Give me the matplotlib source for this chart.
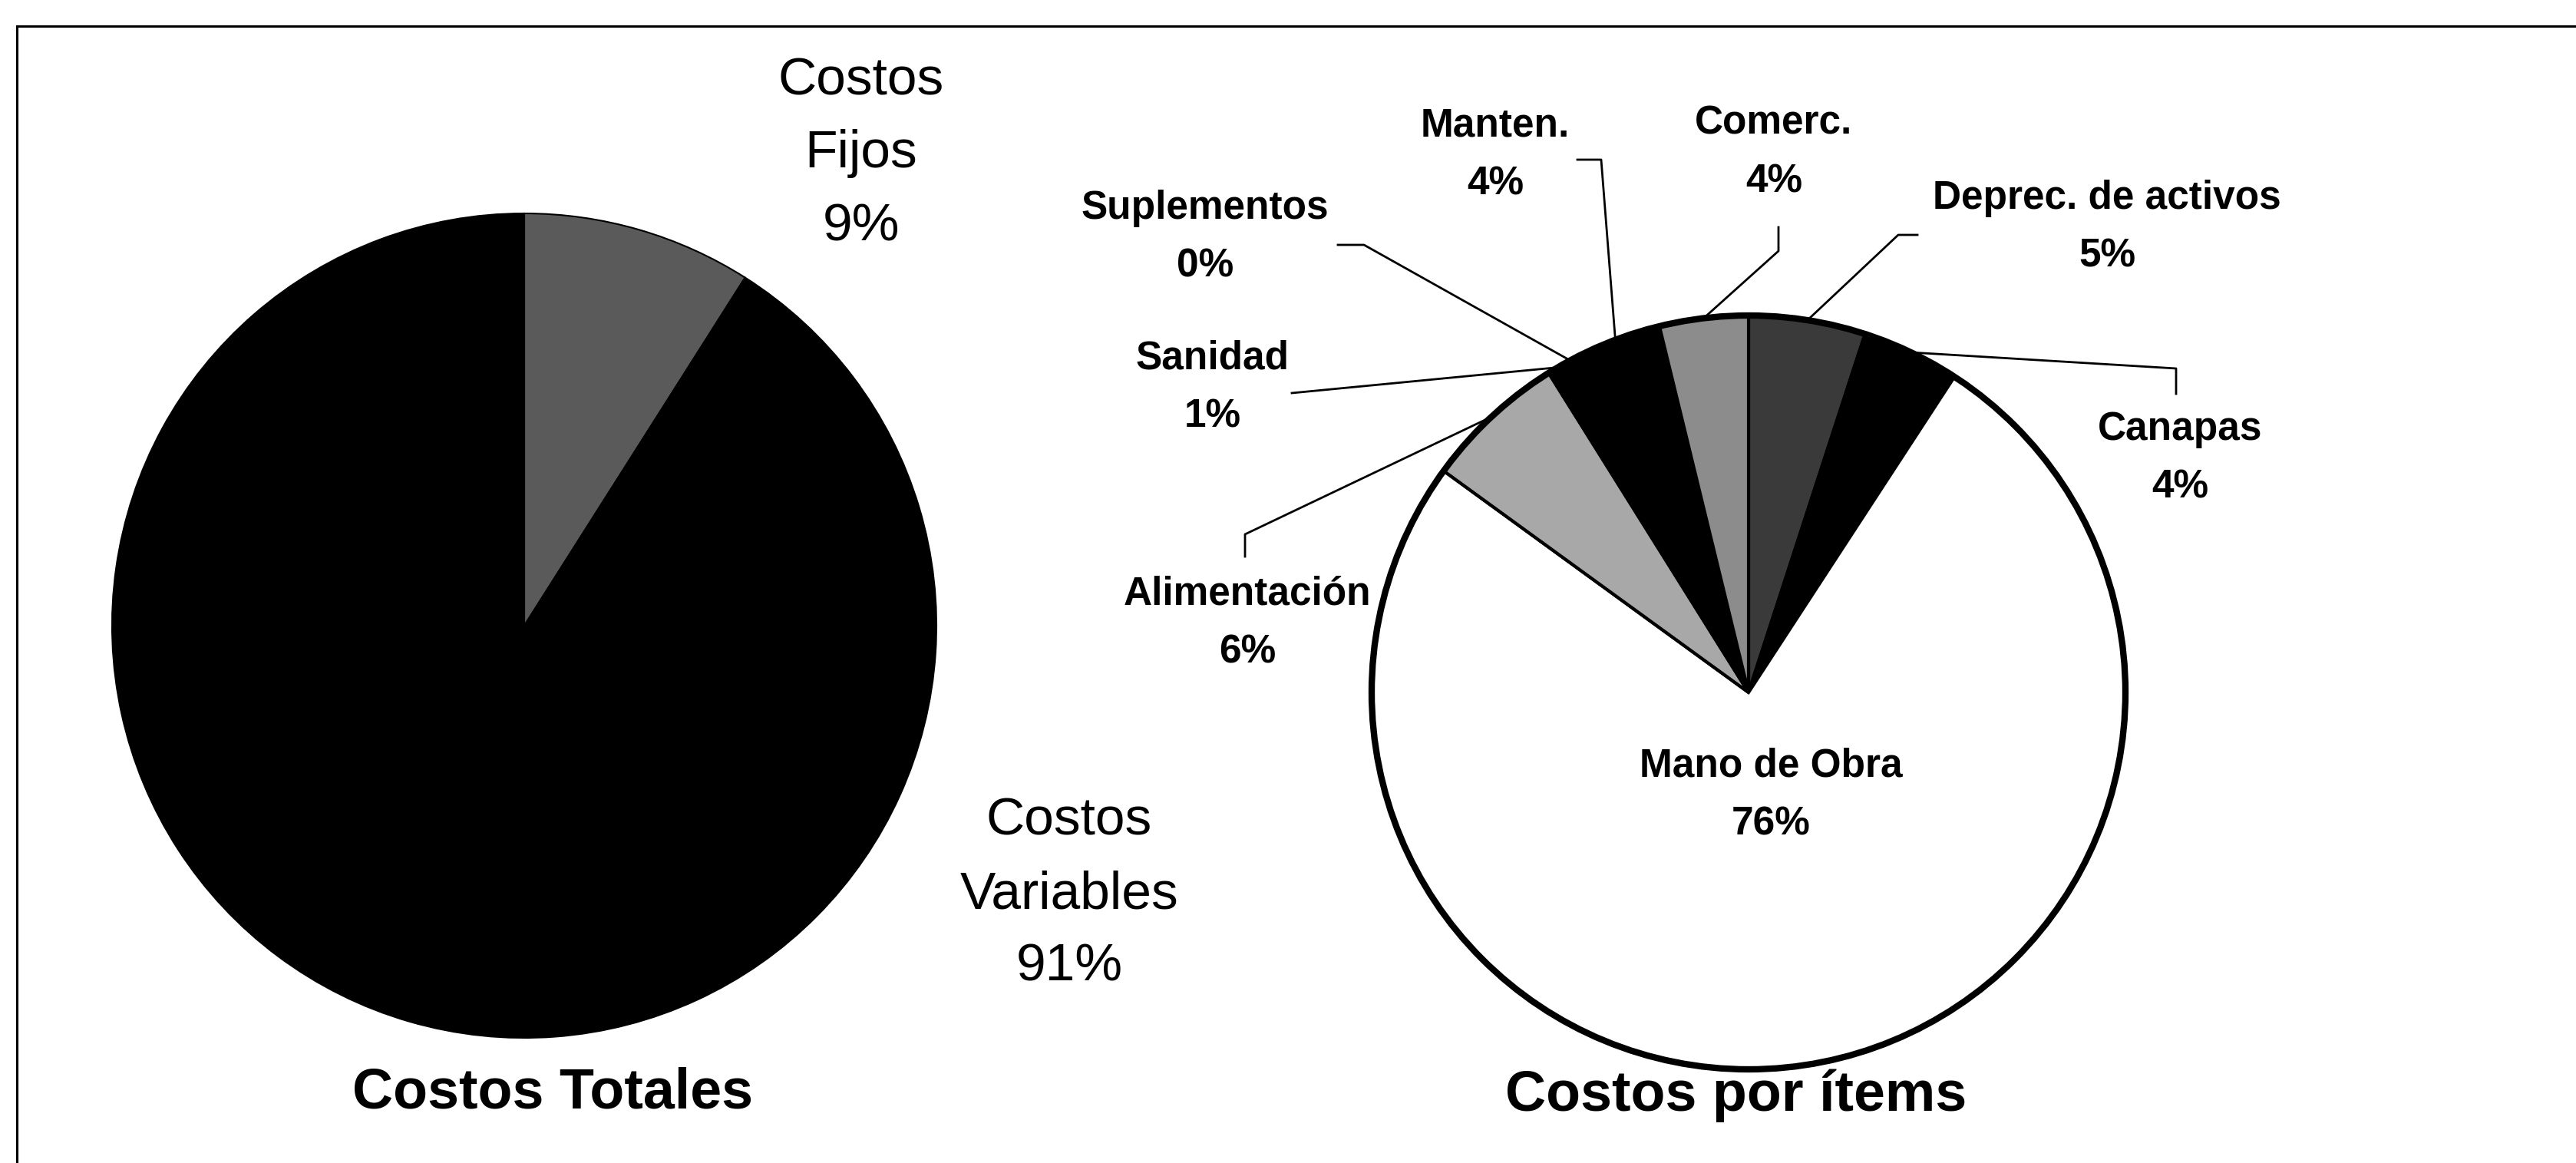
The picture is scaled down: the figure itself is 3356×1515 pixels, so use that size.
import matplotlib.pyplot as plt
import numpy as np

#
# Data
#
totales_labels = ['Costos\nFijos', 'Costos\nVariables']
totales_values = [9, 91]
totales_colors = ['#5a5a5a', '#000000']

items_labels = ['Deprec. de activos', 'Canapas', 'Mano de Obra', 'Alimentación',
                'Sanidad', 'Suplementos', 'Manten.', 'Comerc.']
items_values = [5.0, 4.2, 75.8, 6.1, 0.9, 0.3, 3.9, 3.8]
items_colors = ['#3a3a3a', '#000000', '#ffffff', '#a8a8a8',
                '#000000', '#000000', '#000000', '#8c8c8c']

W, H = 3356, 1515

#
# Figure in pixel units (y measured from the bottom)
#
fig = plt.figure(figsize=(W / 100, H / 100), dpi=100)
ax = fig.add_axes([0, 0, 1, 1])

# frame lines of the scanned page
ax.plot([22, W], [H - 34, H - 34], color='black', lw=2.2)
ax.plot([22, 22], [0, H - 34], color='black', lw=2.2)

#
# Left pie: Costos Totales
#
c1 = (683, H - 815)
r1 = 537
ax.pie(totales_values, colors=totales_colors, startangle=90, counterclock=False,
       center=c1, radius=r1, frame=True,
       wedgeprops=dict(edgecolor='black', linewidth=1.5))

tot_pos = [(1122, H - 200), (1393, H - 1165)]
for lab, val, pos in zip(totales_labels, totales_values, tot_pos):
    ax.text(pos[0], pos[1], '{0}\n{1}%'.format(lab, val), ha='center', va='center',
            fontsize=50, linespacing=1.62,
            family=['Liberation Sans Narrow', 'Liberation Sans'])

ax.text(720, H - 1443, 'Costos Totales', ha='center', va='baseline',
        fontsize=53, fontweight='bold', family='Liberation Sans')

#
# Right pie: Costos por items
#
c2 = (2278, H - 902)
r2 = 491
wedges, _ = ax.pie(items_values, colors=items_colors, startangle=90, counterclock=False,
                   center=c2, radius=r2, frame=True,
                   wedgeprops=dict(edgecolor='black', linewidth=3))
ax.add_patch(plt.Circle(c2, r2, fill=False, edgecolor='black', linewidth=6))

# label centres and leader line start/elbow (image pixels)
item_pos = [(2745, 296), (2840, 597), (2307, 1036), (1625, 812),
            (1580, 505), (1570, 309), (1948, 202), (2311, 199)]
leaders = [[(2498, 306), (2473, 306)],
           [(2835, 513), (2835, 480)],
           None,
           [(1622, 725), (1622, 696)],
           [(1683, 512)],
           [(1743, 319), (1777, 319)],
           [(2055, 208), (2086, 208)],
           [(2317, 296), (2317, 327)]]

for w, lab, val, pos, lead in zip(wedges, items_labels, items_values, item_pos, leaders):
    ax.text(pos[0], H - pos[1], '{0}\n{1:.0f}%'.format(lab, val), ha='center', va='center',
            fontsize=37, fontweight='bold', linespacing=1.71, family='Liberation Sans')
    if lead is None:
        continue
    th = np.deg2rad((w.theta1 + w.theta2) / 2)
    end = (c2[0] + r2 * np.cos(th), c2[1] + r2 * np.sin(th))
    xs = [p[0] for p in lead] + [end[0]]
    ys = [H - p[1] for p in lead] + [end[1]]
    ax.plot(xs, ys, color='black', lw=2)

ax.text(2262, H - 1447, 'Costos por ítems', ha='center', va='baseline',
        fontsize=53, fontweight='bold', family='Liberation Sans')

ax.set_xlim(0, W)
ax.set_ylim(0, H)
ax.set_aspect('equal')
ax.axis('off')

fig.savefig('out.png', dpi=100, facecolor='white')
